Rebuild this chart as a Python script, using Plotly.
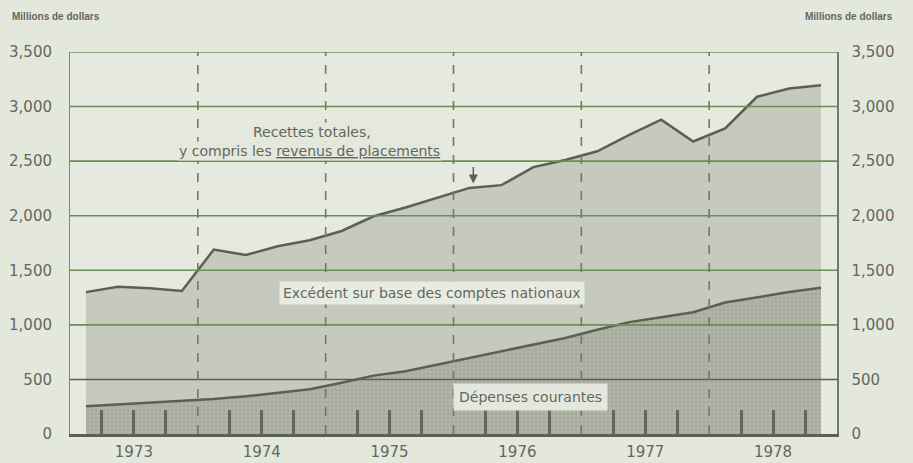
import plotly.graph_objects as go

# ---- data (millions de dollars, trimestriel 1973-1978) ----
years = [1973, 1974, 1975, 1976, 1977, 1978]
year_labels = ["1973", "1974", "1975", "1976", "1977", "1978"]
quarters = [1, 2, 3, 4]
recettes = [1300, 1350, 1335, 1310, 1690, 1640, 1720, 1775,
            1860, 1995, 2075, 2165, 2255, 2280, 2445, 2510,
            2590, 2740, 2880, 2680, 2800, 3090, 3165, 3195]
depenses = [255, 270, 285, 300, 320, 345, 375, 410,
            470, 535, 575, 635, 700, 755, 815, 880,
            955, 1025, 1070, 1115, 1205, 1255, 1300, 1340]
y_ticks = [0, 500, 1000, 1500, 2000, 2500, 3000, 3500]

# quarter midpoints on a continuous year axis
xq = [y + (q - 0.5) / 4 for y in years for q in quarters]
year_mid = [y + 0.5 for y in years]
quarter_bounds = [y + k / 4 for y in years for k in (1, 2, 3)]
year_bounds = years[1:]

BG = "#e3e7dc"
TXT = "#64685c"
GREEN = "#6a8f52"
DARK = "#5b6053"
FONT = "DejaVu Sans"

fig = go.Figure()
fig.add_trace(go.Scatter(
    x=xq, y=depenses, mode="lines", fill="tozeroy",
    line=dict(color=DARK, width=2.5),
    fillcolor="#aeb2a4",
    fillpattern=dict(shape=".", fgcolor="#979b8c", bgcolor="#b0b4a6", size=4, solidity=0.3),
    showlegend=False, hoverinfo="skip"))
fig.add_trace(go.Scatter(
    x=xq, y=recettes, mode="lines", fill="tonexty",
    line=dict(color=DARK, width=2.5),
    fillcolor="#c6c9bd",
    showlegend=False, hoverinfo="skip"))
# invisible trace to carry the right-hand axis
fig.add_trace(go.Scatter(x=[xq[0]], y=[recettes[0]], yaxis="y2", mode="markers",
                         marker=dict(opacity=0), showlegend=False, hoverinfo="skip"))

# horizontal rules above the fills
for v in y_ticks[1:]:
    fig.add_hline(y=v, layer="above",
                  line=dict(color=DARK if v == 500 else GREEN, width=1.6))
# dashed year separators
for yb in year_bounds:
    fig.add_vline(x=yb, layer="above", line=dict(color="#6e7d62", width=1.6, dash="dash"))

fig.update_layout(
    width=913, height=463,
    margin=dict(l=70, r=76, t=52, b=29, autoexpand=False),
    paper_bgcolor=BG, plot_bgcolor="#e5e9df",
    font=dict(family=FONT, color=TXT),
    hovermode=False,
    xaxis=dict(range=[1973, 1979], tickvals=year_mid, ticktext=year_labels,
               ticks="", showgrid=False, zeroline=False, automargin=False,
               showline=True, linecolor=DARK, linewidth=3, mirror=False,
               tickfont=dict(size=15, color=TXT), ticklabelstandoff=2,
               minor=dict(tickmode="array", tickvals=quarter_bounds, ticks="inside",
                          ticklen=24, tickwidth=3, tickcolor="#62675a", showgrid=False)),
    yaxis=dict(range=[0, 3500], tickvals=y_ticks, tickformat=",", showgrid=False,
               zeroline=False, showline=True, linecolor="#7d8a70", linewidth=1,
               automargin=False,
               tickfont=dict(size=15, color=TXT), ticks="", ticklabelstandoff=14),
    yaxis2=dict(range=[0, 3500], tickvals=y_ticks, tickformat=",", overlaying="y",
                side="right", showgrid=False, zeroline=False, showline=True,
                linecolor="#6f7a63", linewidth=1.5, automargin=False,
                tickfont=dict(size=15, color=TXT), ticks="", ticklabelstandoff=10),
)

ann = []
ann.append(dict(text="<b>Millions de dollars</b>", xref="paper", yref="paper",
                x=-0.078, y=1.092, xanchor="left", yanchor="middle", showarrow=False,
                font=dict(size=10, color=TXT, family="Liberation Sans")))
ann.append(dict(text="<b>Millions de dollars</b>", xref="paper", yref="paper",
                x=1.0756, y=1.092, xanchor="right", yanchor="middle", showarrow=False,
                font=dict(size=10, color=TXT, family="Liberation Sans")))
ann.append(dict(text="Recettes totales,", x=1974.894, y=2767, showarrow=False,
                bgcolor=BG, borderpad=1, font=dict(size=14, color=TXT)))
ann.append(dict(text="y compris les <u>revenus de placements</u>", x=1974.87, y=2590,
                showarrow=False, bgcolor=BG, borderpad=1, font=dict(size=14, color=TXT)))
ann.append(dict(text="", x=xq[12] + 0.03, y=recettes[12] + 40, ax=0, ay=-18,
                showarrow=True, arrowhead=2, arrowsize=1.2, arrowwidth=1.5,
                arrowcolor=DARK))
ann.append(dict(text="Excédent sur base des comptes nationaux", x=1975.83, y=1290,
                showarrow=False, bgcolor="#e8ebe2", borderpad=3,
                font=dict(size=14, color=TXT)))
ann.append(dict(text="Dépenses courantes", x=1976.6, y=340, showarrow=False,
                bgcolor="#e4e7de", borderpad=5, font=dict(size=14, color=TXT)))
fig.update_layout(annotations=ann)

fig.write_html("out.html", config={"displayModeBar": False, "staticPlot": True},
               post_script="document.body.style.margin='0';document.body.style.background='%s';" % BG)
